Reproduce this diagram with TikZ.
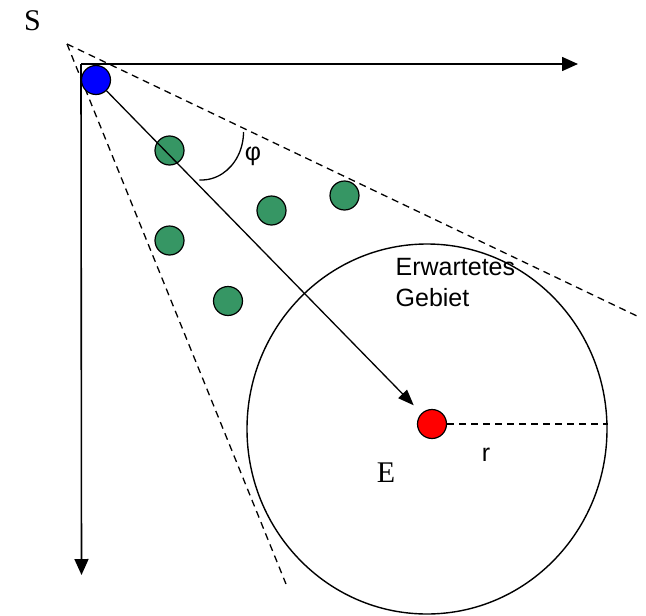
\documentclass[tikz,border=0pt]{standalone}
\usepackage{fontspec}
\setmainfont{Liberation Serif}
\setsansfont{Liberation Sans}
\usetikzlibrary{arrows.meta,shapes.geometric}
\definecolor{dotgreen}{RGB}{54,150,100}
\begin{document}
\begin{tikzpicture}[x=1pt,y=1pt,line width=1.3pt,
  dot/.style={circle,draw=black,line width=1.2pt,minimum size=29pt,inner sep=0pt},
  axis/.style={line width=1.6pt,-{Triangle[length=16pt,width=14pt]}},
  cone/.style={dashed,dash pattern=on 7pt off 5pt,line width=1.3pt},
  sanslabel/.style={font=\sffamily\fontsize{25}{30}\selectfont,inner sep=0pt},
  seriflabel/.style={font=\rmfamily\fontsize{30}{34}\selectfont,inner sep=0pt}]
\useasboundingbox (0,0) rectangle (646,-616);
% axes
\coordinate (origin) at (81,-64);
\coordinate (xend) at (578,-64);
\coordinate (yend) at (81.5,-575);
\draw[axis] (origin) -- (xend);
\draw[axis] (origin) -- (yend);
% cone
\coordinate (apex) at (67,-44);
\coordinate (upperend) at (637,-316);
\coordinate (lowerend) at (286,-584);
\draw[cone] (apex) -- (upperend);
\draw[cone] (apex) -- (lowerend);
% expected area
\node[draw,ellipse,line width=1.4pt,minimum width=360pt,minimum height=370pt,inner sep=0pt] (area) at (427,-429) {};
% dots
\node[dot,fill=red] (target) at (432,-424) {};
\node[dot,fill=blue] (start) at (96,-80) {};
\node[dot,fill=dotgreen] (g1) at (169.5,-150.5) {};
\node[dot,fill=dotgreen] (g2) at (271.5,-210.5) {};
\node[dot,fill=dotgreen] (g3) at (344.5,-195.5) {};
\node[dot,fill=dotgreen] (g4) at (169.5,-240.5) {};
\node[dot,fill=dotgreen] (g5) at (228,-301) {};
% main arrow
\draw[line width=1.3pt,-{Triangle[length=16pt,width=12pt]},shorten >=11pt] (start) -- (target);
% radius
\draw[cone] (target.east) -- (target.east -| area.east);
% angle arc
\coordinate (arcstart) at (243.5,-132);
\draw[line width=1.3pt] (arcstart) arc[start angle=0,end angle=-93,x radius=42pt,y radius=48pt];
% labels
\node[seriflabel] (slabel) at (32.5,-21) {S};
\node[seriflabel,anchor=base] (elabel) at (386,-482) {E};
\node[sanslabel,anchor=base] (rlabel) at (486,-461) {r};
\node[sanslabel] (philabel) at (253,-156) {φ};
\node[sanslabel,anchor=base west] (area1) at (395,-275) {Erwartetes};
\node[sanslabel,anchor=base west] (area2) at (395,-306) {Gebiet};
\end{tikzpicture}
\end{document}
